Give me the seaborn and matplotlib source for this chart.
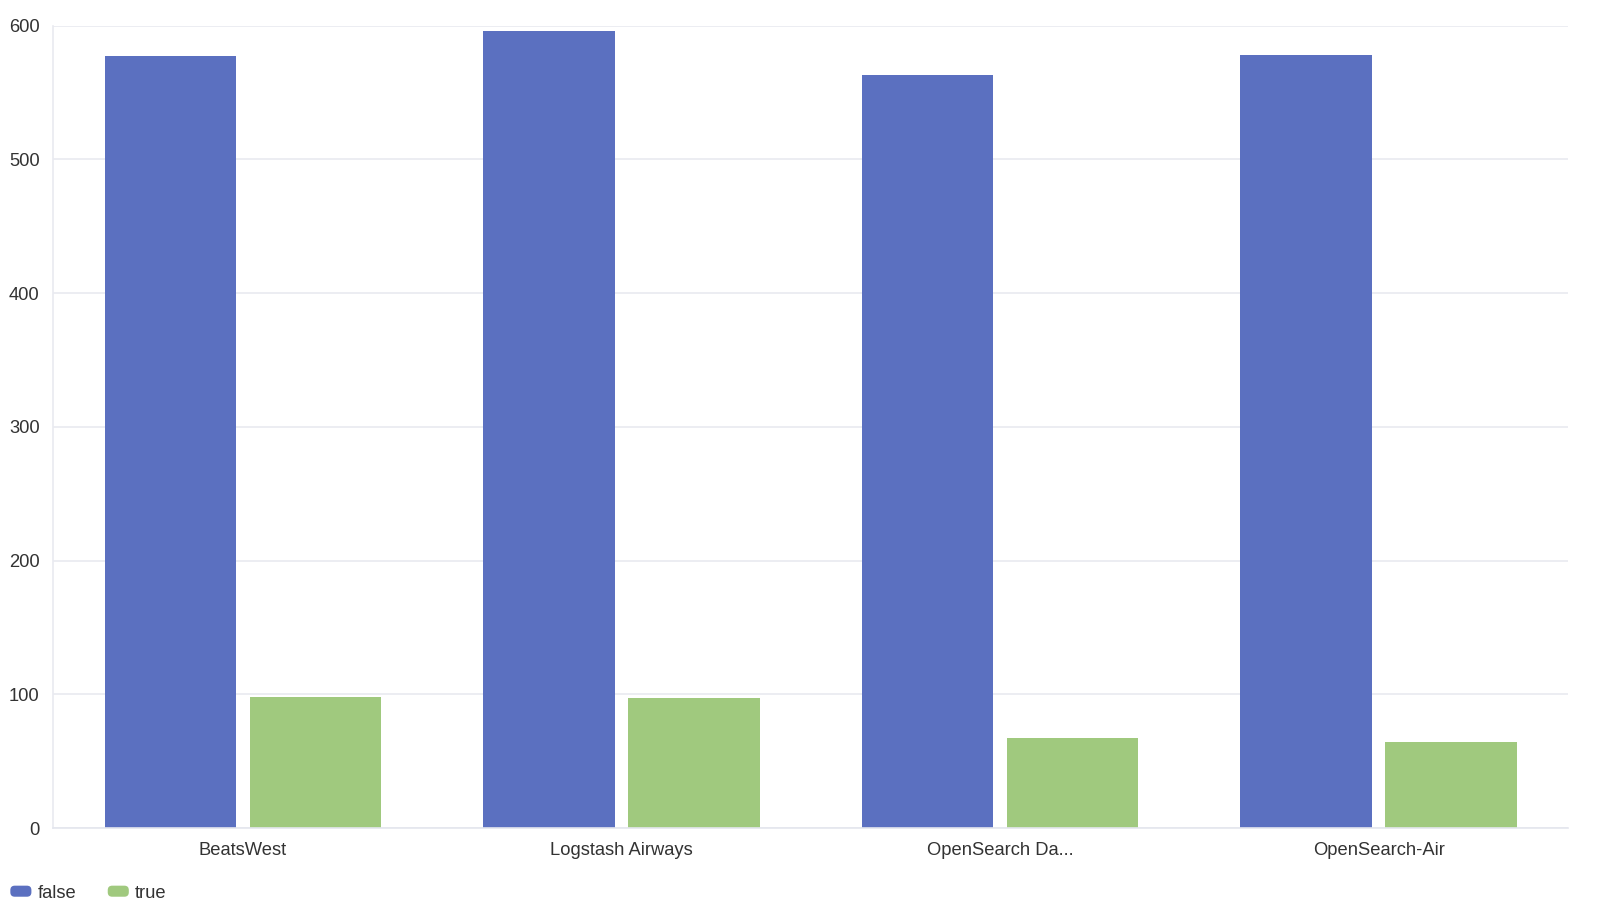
import pandas as pd
import matplotlib.pyplot as plt
import seaborn as sns
from matplotlib.ticker import FixedLocator
from matplotlib.patches import FancyBboxPatch
from matplotlib.legend_handler import HandlerPatch

# Values
carriers = ['BeatsWest', 'Logstash Airways', 'OpenSearch Da...', 'OpenSearch-Air']
false_counts = [577, 596, 563, 578]
true_counts = [98, 97, 67, 64]
series_names = ['false', 'true']
colors = {'false': '#5b70c0', 'true': '#a0c97e'}

df = pd.DataFrame({
    'Carrier': carriers * 2,
    'Cancelled': ['false'] * len(carriers) + ['true'] * len(carriers),
    'Count': false_counts + true_counts,
})

sns.set_style('white')
plt.rcParams['font.family'] = ['Liberation Sans', 'DejaVu Sans']

fig = plt.figure(figsize=(16.08, 9.09), dpi=100)
ax = fig.add_axes([0.0332, 0.0891, 0.9419, 0.8827])

sns.barplot(data=df, x='Carrier', y='Count', hue='Cancelled', hue_order=series_names,
            palette=colors, width=0.766, gap=0.094, saturation=1,
            edgecolor='none', ax=ax)

ax.set_xlim(-0.5, len(carriers) - 0.5)
ax.set_ylim(0, 600)
ax.set_yticks(range(0, 601, 100))
ax.yaxis.grid(True, color='#e9eaf0', linewidth=1.2)
ax.set_axisbelow(True)

ax.set_xlabel('')
ax.set_ylabel('')

for side in ['top', 'right']:
    ax.spines[side].set_visible(False)
ax.spines['left'].set_color('#e9eaf0')
ax.spines['bottom'].set_color('#e4e6ee')
ax.spines['left'].set_linewidth(1.2)
ax.spines['bottom'].set_linewidth(1.2)

ax.tick_params(axis='y', length=6, color='#e9eaf0', labelsize=13.2, labelcolor='#333333', pad=4)
ax.tick_params(axis='x', which='major', length=0, labelsize=13.2, labelcolor='#333333', pad=10)
ax.xaxis.set_minor_locator(FixedLocator([i - 0.5 for i in range(len(carriers) + 1)]))
ax.tick_params(axis='x', which='minor', length=6, color='#e4e6ee', width=1.2)


def rounded_handle(legend, orig_handle, xdescent, ydescent, width, height, fontsize):
    return FancyBboxPatch((-xdescent, -ydescent), width, height,
                          boxstyle='round,pad=0,rounding_size=%f' % (height / 2.5))


ax.legend_.remove()
handles = [plt.Rectangle((0, 0), 1, 1, facecolor=colors[s], edgecolor='none') for s in series_names]
fig.legend(handles, series_names, loc='lower left', bbox_to_anchor=(0.003, 0.002),
           ncol=2, frameon=False, fontsize=13.2, handlelength=1.15, handleheight=0.55,
           handletextpad=0.35, columnspacing=1.7, borderaxespad=0.0, borderpad=0.3,
           labelcolor='#333333',
           handler_map={plt.Rectangle: HandlerPatch(patch_func=rounded_handle)})

fig.savefig('out.png', dpi=100, facecolor='white')
